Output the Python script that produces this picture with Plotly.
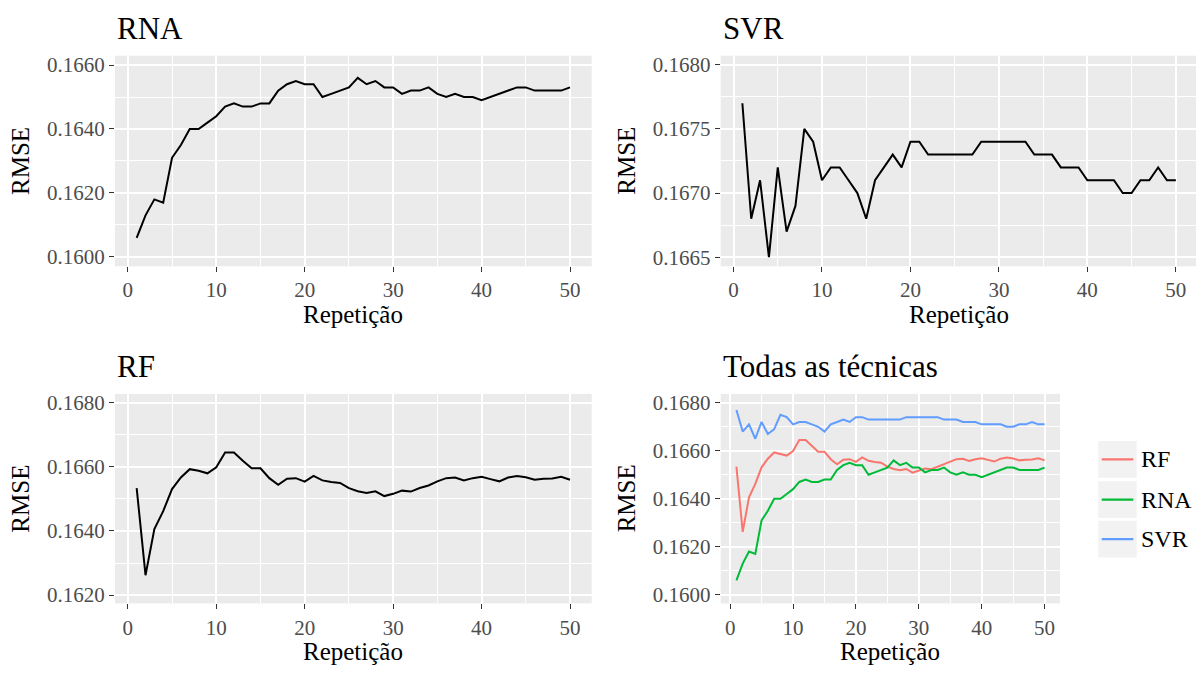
import plotly.graph_objects as go

# ---------------- data ----------------
repeticao = list(range(1, 51))

rna = [0.1606, 0.1613, 0.1618, 0.1617, 0.1631, 0.1635, 0.1640, 0.1640, 0.1642, 0.1644,
       0.1647, 0.1648, 0.1647, 0.1647, 0.1648, 0.1648, 0.1652, 0.1654, 0.1655, 0.1654,
       0.1654, 0.1650, 0.1651, 0.1652, 0.1653, 0.1656, 0.1654, 0.1655, 0.1653, 0.1653,
       0.1651, 0.1652, 0.1652, 0.1653, 0.1651, 0.1650, 0.1651, 0.1650, 0.1650, 0.1649,
       0.1650, 0.1651, 0.1652, 0.1653, 0.1653, 0.1652, 0.1652, 0.1652, 0.1652, 0.1653]

svr = [0.1677, 0.1668, 0.1671, 0.1665, 0.1672, 0.1667, 0.1669, 0.1675, 0.1674, 0.1671,
       0.1672, 0.1672, 0.1671, 0.1670, 0.1668, 0.1671, 0.1672, 0.1673, 0.1672, 0.1674,
       0.1674, 0.1673, 0.1673, 0.1673, 0.1673, 0.1673, 0.1673, 0.1674, 0.1674, 0.1674,
       0.1674, 0.1674, 0.1674, 0.1673, 0.1673, 0.1673, 0.1672, 0.1672, 0.1672, 0.1671,
       0.1671, 0.1671, 0.1671, 0.1670, 0.1670, 0.1671, 0.1671, 0.1672, 0.1671, 0.1671]

rf = [0.16534, 0.16262, 0.16406, 0.16462, 0.16531, 0.16567, 0.16593, 0.16588, 0.16580, 0.16599,
      0.16645, 0.16645, 0.16619, 0.16596, 0.16596, 0.16565, 0.16544, 0.16563, 0.16565, 0.16554,
      0.16572, 0.16558, 0.16553, 0.16550, 0.16534, 0.16524, 0.16519, 0.16524, 0.16509, 0.16516,
      0.16526, 0.16523, 0.16534, 0.16542, 0.16555, 0.16565, 0.16567, 0.16558, 0.16565, 0.16569,
      0.16562, 0.16555, 0.16567, 0.16572, 0.16568, 0.16560, 0.16563, 0.16564, 0.16569, 0.16560]

panel_titles = ["RNA", "SVR", "RF", "Todas as técnicas"]
legend_labels = ["RF", "RNA", "SVR"]
x_title = "Repetição"
y_title = "RMSE"

x_ticks = [0, 10, 20, 30, 40, 50]
x_minor = [5, 15, 25, 35, 45]
y_ticks_rna = [0.1600, 0.1620, 0.1640, 0.1660]
y_minor_rna = [0.1610, 0.1630, 0.1650]
y_ticks_svr = [0.1665, 0.1670, 0.1675, 0.1680]
y_minor_svr = [0.16675, 0.16725, 0.16775]
y_ticks_rf = [0.1620, 0.1640, 0.1660, 0.1680]
y_minor_rf = [0.1630, 0.1650, 0.1670]
y_ticks_all = [0.1600, 0.1620, 0.1640, 0.1660, 0.1680]
y_minor_all = [0.1610, 0.1630, 0.1650, 0.1670]

# ---------------- styling ----------------
W, H = 1196, 673
FONT = "Liberation Serif"
BG = "#EBEBEB"
COL = {"RF": "#F8766D", "RNA": "#00BA38", "SVR": "#619CFF"}


def px(x):
    return x / W


def py(y):
    return 1 - y / H


# panel boxes in pixels: (left, right, top, bottom)
boxes = [(115, 591.7, 53.3, 266), (720.7, 1196, 53.3, 266),
         (115, 591.7, 395, 606.7), (720.7, 1060, 395, 606.7)]
yranges = [[0.15971, 0.16629], [0.16643, 0.16807], [0.16174, 0.16828], [0.15964, 0.16837]]
xranges = [[-1.45, 52.45], [-1.45, 52.28], [-1.45, 52.45], [-1.5, 52.45]]
xtitle_centers = [353.3, 959, 353.3, 890.3]
yticks = [(y_ticks_rna, y_minor_rna), (y_ticks_svr, y_minor_svr),
          (y_ticks_rf, y_minor_rf), (y_ticks_all, y_minor_all)]

fig = go.Figure()

# traces
fig.add_trace(go.Scatter(x=repeticao, y=rna, mode="lines", line=dict(color="black", width=2),
                         xaxis="x", yaxis="y", showlegend=False))
fig.add_trace(go.Scatter(x=repeticao, y=svr, mode="lines", line=dict(color="black", width=2),
                         xaxis="x2", yaxis="y2", showlegend=False))
fig.add_trace(go.Scatter(x=repeticao, y=rf, mode="lines", line=dict(color="black", width=2),
                         xaxis="x3", yaxis="y3", showlegend=False))
for name, vals in [("RF", rf), ("RNA", rna), ("SVR", svr)]:
    fig.add_trace(go.Scatter(x=repeticao, y=vals, mode="lines", name=name,
                             line=dict(color=COL[name], width=2),
                             xaxis="x4", yaxis="y4", showlegend=False))

layout = dict(width=W, height=H, margin=dict(l=0, r=0, t=0, b=0),
              paper_bgcolor="white", plot_bgcolor=BG, showlegend=False,
              font=dict(family=FONT))

annotations = []
shapes = []
for i, (l, r, t, b) in enumerate(boxes):
    sfx = "" if i == 0 else str(i + 1)
    yt, ym = yticks[i]
    common_tick = dict(ticks="outside", ticklen=5, tickwidth=1.2, tickcolor="#333333",
                       showline=False, zeroline=False, showgrid=True,
                       gridcolor="white", gridwidth=1.6,
                       tickfont=dict(family=FONT, size=21, color="#4D4D4D"))
    layout["xaxis" + sfx] = dict(domain=[px(l), px(r)], range=xranges[i],
                                 anchor="y" + sfx, tickmode="array", tickvals=x_ticks,
                                 minor=dict(tickmode="array", tickvals=x_minor, showgrid=True,
                                            gridcolor="white", gridwidth=0.8, ticks=""),
                                 **common_tick)
    layout["yaxis" + sfx] = dict(domain=[py(b), py(t)], range=yranges[i],
                                 anchor="x" + sfx, tickmode="array", tickvals=yt,
                                 tickformat=".4f",
                                 minor=dict(tickmode="array", tickvals=ym, showgrid=True,
                                            gridcolor="white", gridwidth=0.8, ticks=""),
                                 **common_tick)
    # panel title
    annotations.append(dict(text=panel_titles[i], x=px(l), y=py(t - 28), xref="paper", yref="paper",
                            xanchor="left", yanchor="middle", showarrow=False,
                            font=dict(family=FONT, size=31, color="black")))
    # x title
    annotations.append(dict(text=x_title, x=px(xtitle_centers[i]), y=py(b + 49),
                            xref="paper", yref="paper", xanchor="center", yanchor="middle",
                            showarrow=False, font=dict(family=FONT, size=25, color="black")))
    # y title
    annotations.append(dict(text=y_title, x=px(l - 94), y=py((t + b) / 2), xref="paper", yref="paper",
                            xanchor="center", yanchor="middle", textangle=-90, showarrow=False,
                            font=dict(family=FONT, size=25, color="black")))

# manual legend (ggplot style)
key_tops = [442.7, 483.3, 523.3]
for name, kt in zip(legend_labels, key_tops):
    shapes.append(dict(type="rect", xref="paper", yref="paper",
                       x0=px(1098.3), x1=px(1136.7), y0=py(kt + 37), y1=py(kt),
                       fillcolor="#F2F2F2", line=dict(width=0)))
    cy = kt + 18.5
    shapes.append(dict(type="line", xref="paper", yref="paper",
                       x0=px(1101.7), x1=px(1133.3), y0=py(cy), y1=py(cy),
                       line=dict(color=COL[name], width=2.2)))
    annotations.append(dict(text=name, x=px(1138.5), y=py(cy), xref="paper", yref="paper",
                            xanchor="left", yanchor="middle", showarrow=False,
                            font=dict(family=FONT, size=24, color="black")))

layout["annotations"] = annotations
layout["shapes"] = shapes
fig.update_layout(**layout)
fig.write_html("out.html", config={"displayModeBar": False},
               post_script="document.body.style.margin='0px';")
